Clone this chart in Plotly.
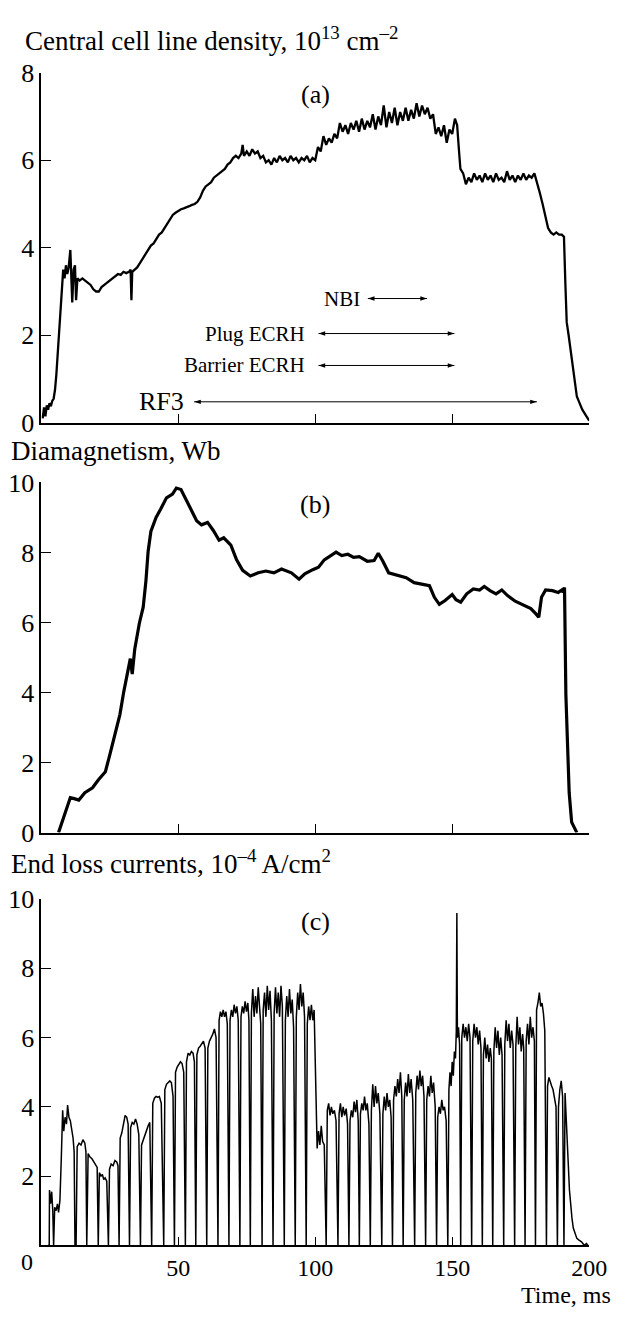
import plotly.graph_objects as go

# ---- (a) central cell line density, 1e13 cm^-2 ----
density_t = [
    0.5, 1.0, 1.5, 2.0, 2.5, 3.0, 3.5, 4.0, 4.5, 5.0, 5.5, 6.0, 6.5, 7.0, 7.5, 8.0,
    8.5, 9.0, 9.5, 10.0, 10.6, 11.0, 11.3, 11.8, 12.3, 12.7, 13.2, 14, 15, 16, 17, 18,
    19, 20, 21, 22, 23, 24, 25, 26, 27, 28, 29, 30, 31, 32, 32.6, 32.9, 33.2, 34, 35,
    36, 37, 38, 39, 40, 41, 42, 43, 44, 45, 46, 47, 48, 49, 50, 51, 52, 53, 54, 55, 56,
    57, 58, 59, 60, 61, 62, 63, 64, 65, 66, 67, 68, 69, 70, 71, 72, 73, 73.5, 74, 75,
    76, 77, 78, 79, 80, 81, 82, 83, 84, 85, 86, 87, 88, 89, 90, 91, 92, 93, 94, 95, 96,
    97, 98, 99, 100, 101, 102, 103, 104, 105, 106, 107, 108, 109, 110, 111, 112, 113,
    114, 115, 116, 117, 118, 119, 120, 121, 122, 123, 124, 125, 126, 127, 128, 129,
    130, 131, 132, 133, 134, 135, 136, 137, 138, 139, 140, 141, 142, 143, 144, 145,
    146, 147, 148, 149, 150, 151, 151.8, 152.5, 153, 154, 155, 156, 157, 158, 159, 160,
    161, 162, 163, 164, 165, 166, 167, 168, 169, 170, 171, 172, 173, 174, 175, 176,
    177, 178, 179, 180, 181, 182, 183, 184, 185, 186, 187, 188, 189, 190, 190.8, 191.3,
    191.8, 192.5, 193.5, 194.5, 195.5, 196.5, 197.5, 198.5, 199.5, 200,
]
density_v = [
    0.1, 0.35, 0.15, 0.4, 0.3, 0.45, 0.38, 0.5, 0.55, 0.75, 1.1, 1.6, 2.2, 2.7, 3.0, 3.5,
    3.3, 3.6, 3.4, 3.55, 3.95, 3.2, 2.75, 3.5, 3.6, 2.8, 3.3, 3.25, 3.3, 3.25, 3.2, 3.15,
    3.05, 3.0, 3.0, 3.1, 3.15, 3.2, 3.25, 3.3, 3.35, 3.4, 3.38, 3.45, 3.42, 3.45, 3.5, 2.8, 3.45, 3.5, 3.55,
    3.65, 3.75, 3.85, 3.95, 4.05, 4.1, 4.2, 4.3, 4.35, 4.45, 4.55, 4.65, 4.75, 4.8, 4.85, 4.88, 4.9, 4.92, 4.95, 4.98, 5.0,
    5.05, 5.15, 5.3, 5.4, 5.45, 5.5, 5.6, 5.65, 5.7, 5.75, 5.8, 5.9, 5.95, 6.05, 6.1, 6.05, 6.15, 6.35, 6.1, 6.2,
    6.1, 6.25, 6.15, 6.2, 6.05, 6.1, 5.95, 6.0, 5.9, 6.05, 5.95, 6.1, 6.0, 6.05, 5.95, 6.1, 6.0, 6.05, 5.95, 6.05, 6.0,
    6.1, 5.95, 6.05, 6.0, 6.3, 6.2, 6.55, 6.35, 6.5, 6.4, 6.6, 6.5, 6.85, 6.65, 6.8, 6.6, 6.85,
    6.7, 6.9, 6.65, 6.95, 6.7, 6.9, 6.75, 7.05, 6.7, 7.0, 6.8, 7.25, 6.75, 7.1, 6.85, 7.2,
    6.8, 7.1, 6.9, 7.2, 6.9, 7.15, 6.95, 7.3, 7.0, 7.25, 7.05, 7.2, 6.95, 7.05, 6.6, 6.75,
    6.55, 6.8, 6.4, 6.7, 6.6, 6.95, 6.8, 6.2, 5.8, 5.7, 5.45, 5.6, 5.5, 5.7, 5.55, 5.65,
    5.5, 5.7, 5.55, 5.65, 5.5, 5.7, 5.55, 5.6, 5.5, 5.75, 5.55, 5.65, 5.5, 5.65, 5.55, 5.7,
    5.55, 5.65, 5.6, 5.7, 5.5, 5.25, 5.0, 4.7, 4.45, 4.35, 4.3, 4.35, 4.3, 4.3, 4.25, 3.2,
    2.3, 2.0, 1.5, 1.0, 0.6, 0.45, 0.3, 0.2, 0.1, 0.05,
]

# ---- (b) diamagnetism, Wb ----
diamag_t = [
    6.3, 8.7, 10.6, 12.0, 13.7, 15.9, 18.7, 20.8, 23.4, 25.1, 27.2, 28.7, 30.1, 32.0,
    32.5, 33.2, 34.1, 35.8, 37.2, 38.2, 39.0, 40.0, 41.9, 43.6, 45.7, 47.9, 49.3, 51.0,
    52.8, 55.0, 56.7, 58.5, 60.7, 62.8, 64.9, 66.6, 69.2, 71.3, 73.5, 76.3, 79.2, 82.0,
    84.9, 87.7, 91.3, 94.1, 96.2, 99.1, 101.2, 103.3, 105.5, 107.6, 109.7, 111.9, 114.0,
    116.1, 119.0, 121.5, 123.0, 124.7, 126.8, 129.7, 133.2, 136.1, 138.9, 141.7, 143.5,
    145.3, 147.4, 150.0, 151.4, 153.1, 155.3, 157.7, 160.0, 161.7, 163.8, 166.0, 168.1,
    170.2, 173.0, 175.9, 178.7, 180.4, 181.6, 182.6, 184.1, 186.6, 188.7, 190.1, 190.5,
    191.0, 191.5, 192.7, 193.6, 195.5,
]
diamag_v = [
    0.0, 0.58, 1.0, 0.97, 0.93, 1.14, 1.28, 1.5, 1.74, 2.25, 2.9, 3.37, 4.02, 4.86,
    4.97, 4.53, 5.23, 5.98, 6.44, 7.19, 8.03, 8.6, 9.0, 9.24, 9.56, 9.67, 9.84, 9.8,
    9.52, 9.19, 8.91, 8.79, 8.86, 8.63, 8.35, 8.42, 8.21, 7.79, 7.49, 7.33, 7.42, 7.47,
    7.42, 7.53, 7.42, 7.24, 7.39, 7.51, 7.58, 7.79, 7.91, 8.01, 7.91, 7.95, 7.86,
    7.88, 7.75, 7.77, 7.98, 7.75, 7.42, 7.36, 7.28, 7.14, 7.1, 7.05, 6.72,
    6.52, 6.63, 6.8, 6.65, 6.58, 6.82, 6.96, 6.93, 7.03, 6.91, 6.82, 6.93,
    6.77, 6.61, 6.49, 6.4, 6.26, 6.15, 6.72, 6.93, 6.91, 6.86, 6.93, 6.86,
    7.0, 3.93, 1.14, 0.3, 0.0,
]

# ---- (c) end loss currents, 1e-4 A/cm^2 ----
loss_t = [
    2.5, 2.9, 3.0, 3.4, 3.8, 4.2, 4.5, 4.9, 5.4, 5.9, 6.3, 6.8, 7.3, 7.8, 8.2, 8.7, 9.2, 9.6, 10.1, 10.6, 11.1, 11.6, 12.0, 12.3,
    12.7, 13.1, 13.8, 14.5, 15.2, 15.9, 16.3, 16.6,
    17.1, 17.8, 18.5, 19.2, 19.9, 20.4, 20.8,
    21.2, 21.8, 22.3, 22.8, 23.3, 23.9, 24.5,
    24.9, 25.5, 26.2, 26.9, 27.6, 28.0, 28.4,
    28.8, 29.4, 30.0, 30.6, 31.2, 31.7, 32.2,
    32.6, 33.2, 33.8, 34.4, 35.0, 35.6, 36.2,
    36.6, 37.2, 37.8, 38.4, 39.0, 39.6, 40.3,
    40.7, 41.3, 41.9, 42.5, 43.1, 43.8, 44.7,
    45.1, 45.7, 46.3, 46.9, 47.5, 48.1, 48.6,
    49.0, 49.6, 50.2, 50.8, 51.4, 52.0, 52.6,
    53.0, 53.6, 54.2, 54.8, 55.4, 55.9, 56.4,
    56.8, 57.4, 58.0, 58.6, 59.2, 59.8, 60.4,
    60.8, 61.4, 62.0, 62.6, 63.2, 63.8, 64.5,
    64.9, 65.4, 65.9, 66.4, 66.9, 67.4, 67.9, 68.5,
    68.9, 69.4, 69.9, 70.4, 70.9, 71.4, 71.9, 72.5,
    72.9, 73.4, 73.9, 74.4, 74.9, 75.4, 75.8, 76.3,
    76.7, 77.2, 77.7, 78.2, 78.7, 79.2, 79.7, 80.1, 80.6,
    81.0, 81.5, 82.0, 82.5, 83.0, 83.5, 84.0, 84.6,
    85.0, 85.5, 86.0, 86.5, 87.0, 87.5, 88.0, 88.7,
    89.1, 89.6, 90.1, 90.6, 91.1, 91.6, 92.1, 92.7,
    93.1, 93.6, 94.1, 94.6, 95.1, 95.6, 96.1, 96.7,
    97.1, 97.6, 98.1, 98.6, 99.1, 99.6, 100.0, 100.3, 100.7, 101.2, 101.7, 102.2, 102.7, 103.3, 104.0,
    104.4, 104.9, 105.4, 105.9, 106.4, 107.0, 107.6, 108.3,
    108.7, 109.2, 109.7, 110.2, 110.7, 111.3, 111.8, 112.3,
    112.7, 113.2, 113.7, 114.2, 114.7, 115.2, 115.7, 116.1,
    116.5, 117.0, 117.5, 118.0, 118.5, 119.0, 119.6, 120.1,
    120.5, 121.0, 121.5, 122.0, 122.5, 123.0, 123.6, 124.3,
    124.7, 125.2, 125.7, 126.2, 126.7, 127.2, 127.7, 128.2,
    128.6, 129.1, 129.6, 130.1, 130.6, 131.1, 131.6, 132.1,
    132.5, 133.0, 133.5, 134.0, 134.5, 135.0, 135.6, 136.3,
    136.7, 137.2, 137.7, 138.2, 138.7, 139.2, 139.7, 140.3,
    140.7, 141.2, 141.7, 142.2, 142.7, 143.2, 143.8, 144.3,
    144.7, 145.2, 145.7, 146.2, 146.7, 147.2, 147.8, 148.4,
    148.8, 149.2, 149.6, 150.0, 150.4, 150.8, 151.2, 151.5, 151.7, 151.9, 152.3, 152.7, 153.1,
    153.5, 154.0, 154.5, 155.0, 155.5, 156.0, 156.5, 157.1,
    157.5, 158.0, 158.5, 159.0, 159.5, 160.0, 160.5, 161.0,
    161.4, 161.9, 162.4, 162.9, 163.4, 163.9, 164.3, 164.8,
    165.2, 165.7, 166.2, 166.7, 167.2, 167.7, 168.2, 168.8,
    169.2, 169.7, 170.2, 170.7, 171.2, 171.7, 172.2, 172.8,
    173.2, 173.7, 174.2, 174.7, 175.2, 175.7, 176.1, 176.6,
    177.0, 177.5, 178.0, 178.5, 179.0, 179.5, 180.0, 180.4,
    180.8, 181.3, 181.8, 182.3, 182.8, 183.3, 183.8, 184.4,
    184.8, 185.3, 185.8, 186.3, 186.8, 187.3, 187.9, 188.4,
    188.8, 189.3, 189.8, 190.3, 190.8,
    191.2, 191.6, 192.0, 192.4, 192.8, 193.2, 193.7, 194.2, 194.8, 195.5, 196.3, 197.2, 198.2, 199.0, 199.5,
]
loss_v = [
    0, 0, 1.6, 1.2, 1.55, 1.0, 0, 1.1, 1.0, 1.2, 0.95, 1.3, 2.5, 3.9, 3.3, 3.7, 3.5, 4.05, 3.7, 3.6, 3.35, 3.1, 2.7, 0,
    0, 2.85, 2.95, 2.9, 3.05, 2.95, 2.7, 0,
    2.65, 2.55, 2.5, 2.4, 2.3, 2.25, 0,
    2.1, 2.0, 2.05, 1.9, 1.95, 1.85, 0,
    2.2, 2.35, 2.3, 2.45, 2.4, 2.3, 0,
    3.1, 3.25, 3.5, 3.75, 3.7, 3.5, 0,
    3.4, 3.55, 3.5, 3.65, 3.5, 3.2, 0,
    2.9, 3.05, 3.2, 3.3, 3.45, 3.55, 0,
    4.1, 4.25, 4.3, 4.28, 4.3, 4.1, 0,
    4.5, 4.65, 4.7, 4.75, 4.7, 4.3, 0,
    5.0, 5.15, 5.25, 5.3, 5.25, 5.0, 0,
    5.3, 5.55, 5.5, 5.6, 5.55, 5.3, 0,
    5.5, 5.7, 5.75, 5.85, 5.9, 5.7, 0,
    5.7, 5.9, 6.0, 6.1, 6.25, 6.0, 0,
    6.5, 6.75, 6.6, 6.8, 6.6, 6.75, 6.4, 0,
    6.5, 6.8, 6.6, 6.95, 6.7, 6.9, 6.5, 0,
    6.6, 6.9, 6.7, 7.05, 6.75, 7.0, 6.5, 0,
    6.7, 7.4, 6.6, 7.2, 6.7, 7.45, 6.9, 6.4, 0,
    6.8, 7.3, 6.6, 7.5, 6.8, 7.35, 6.5, 0,
    6.7, 7.45, 6.7, 7.3, 6.6, 7.5, 6.9, 0,
    6.5, 7.2, 6.6, 7.4, 6.7, 7.1, 6.3, 0,
    6.6, 7.3, 6.8, 7.55, 6.9, 7.3, 6.6, 0,
    6.4, 6.9, 6.5, 6.95, 6.5, 6.8, 5.0, 3.4, 2.8, 3.3, 2.9, 3.45, 3.0, 2.9, 0,
    3.9, 4.1, 3.75, 4.0, 3.8, 3.9, 3.6, 0,
    3.8, 4.1, 3.7, 4.0, 3.75, 3.95, 3.5, 0,
    3.6, 3.9, 3.7, 4.15, 3.85, 4.2, 3.6, 0,
    3.8, 4.1, 3.9, 4.3, 3.9, 4.1, 3.5, 0,
    3.9, 4.65, 4.0, 4.6, 4.1, 4.4, 3.8, 0,
    3.8, 4.3, 3.9, 4.4, 4.0, 4.2, 3.7, 0,
    4.2, 4.6, 4.3, 4.8, 4.4, 5.0, 4.3, 0,
    4.2, 4.7, 4.3, 4.95, 4.4, 4.8, 4.2, 0,
    4.4, 4.9, 4.5, 5.05, 4.6, 4.9, 4.3, 0,
    4.2, 4.6, 4.3, 4.9, 4.4, 4.7, 4.0, 0,
    3.7, 4.0, 3.8, 4.2, 3.9, 4.0, 3.6, 0,
    4.5, 5.0, 4.6, 5.3, 4.9, 5.6, 5.4, 6.2, 9.6, 6.0, 6.3, 5.8, 0,
    6.0, 6.4, 6.0, 6.3, 5.9, 6.4, 6.0, 0,
    5.9, 6.4, 6.0, 6.3, 5.8, 6.2, 5.7, 0,
    5.5, 6.0, 5.4, 5.8, 5.3, 5.7, 5.4, 0,
    5.6, 6.3, 5.7, 6.2, 5.5, 6.0, 5.5, 0,
    5.8, 6.5, 5.9, 6.4, 5.7, 6.2, 5.8, 0,
    5.7, 6.6, 5.8, 6.3, 5.6, 6.1, 5.7, 0,
    5.9, 6.4, 5.8, 6.6, 6.0, 6.3, 5.9, 0,
    6.8, 7.0, 7.3, 6.9, 7.0, 6.7, 6.2, 0,
    4.6, 4.85, 4.7, 4.6, 4.5, 4.3, 4.0, 0,
    4.0, 4.5, 4.75, 4.3, 0,
    4.4, 3.5, 2.8, 2.3, 1.6, 1.1, 0.8, 0.5, 0.35, 0.2, 0.15, 0.1, 0.0, 0.05, 0,
]

# heating / RF timing bars drawn in panel (a): label, start, end, level, label end
heat_labels = ["NBI", "Plug ECRH", "Barrier ECRH", "RF3"]
heat_start = [119.2, 101.2, 101.2, 55.8]
heat_end = [140.8, 150.8, 150.8, 180.9]
heat_level = [2.84, 2.04, 1.31, 0.48]
heat_label_end = [117.1, 96.9, 96.9, 53.0]
heat_font = [21, 21, 21, 26]

W, H = 630, 1320
FONT = "Liberation Serif"
X0, X1 = 42.5 / W, 606.5 / W


def ydom(top_px, bot_px):
    return [1 - bot_px / H, 1 - top_px / H]


fig = go.Figure()
fig.add_trace(go.Scatter(x=density_t, y=density_v, mode="lines",
                         line=dict(color="black", width=2.3), xaxis="x", yaxis="y"))
fig.add_trace(go.Scatter(x=diamag_t, y=diamag_v, mode="lines",
                         line=dict(color="black", width=3.2), xaxis="x2", yaxis="y2"))
fig.add_trace(go.Scatter(x=loss_t, y=loss_v, mode="lines",
                         line=dict(color="black", width=1.5), xaxis="x3", yaxis="y3"))

# double-headed timing bars: a thin line with an arrow marker at each end
for s, e, lv in zip(heat_start, heat_end, heat_level):
    fig.add_trace(go.Scatter(
        x=[s, e], y=[lv, lv], mode="lines+markers", xaxis="x", yaxis="y",
        line=dict(color="black", width=1),
        marker=dict(symbol="arrow", size=7, color="black", angle=[270, 90],
                    line=dict(width=0)),
        hoverinfo="skip"))

xcommon = dict(range=[0, 200], domain=[X0, X1], showline=True, linecolor="black", linewidth=1.5,
               ticks="inside", ticklen=9, tickwidth=1.2, tickcolor="black", showgrid=False,
               zeroline=False, tickvals=[0, 50, 100, 150, 200])
ycommon = dict(showline=True, linecolor="black", linewidth=1.5, ticks="inside", ticklen=10,
               tickwidth=1.2, tickcolor="black", showgrid=False, zeroline=False,
               tickfont=dict(family=FONT, size=26, color="black"))

fig.update_layout(
    width=W, height=H, margin=dict(l=0, r=0, t=0, b=0),
    paper_bgcolor="white", plot_bgcolor="white", showlegend=False,
    font=dict(family=FONT, color="black"),
    xaxis=dict(**xcommon, anchor="y", showticklabels=False),
    xaxis2=dict(**xcommon, anchor="y2", showticklabels=False),
    xaxis3=dict(**xcommon, anchor="y3", showticklabels=True,
                ticktext=["", "50", "100", "150", "200"], ticklabelstandoff=0,
                tickfont=dict(family=FONT, size=24, color="black")),
    yaxis=dict(**ycommon, anchor="x", domain=ydom(60, 418), range=[0, 8], tickvals=[0, 2, 4, 6, 8]),
    yaxis2=dict(**ycommon, anchor="x2", domain=ydom(479, 837), range=[0, 10],
                tickvals=[0, 2, 4, 6, 8, 10]),
    yaxis3=dict(**ycommon, anchor="x3", domain=ydom(905, 1259), range=[0, 10],
                tickvals=[2, 4, 6, 8, 10]),
)

ann = []
# panel titles
ann.append(dict(text="Central cell line density, 10<sup>13</sup> cm<sup>–2</sup>", x=24 / W,
                y=1 - 26 / H, xref="paper", yref="paper", xanchor="left", yanchor="middle",
                showarrow=False, font=dict(family=FONT, size=27)))
ann.append(dict(text="Diamagnetism, Wb", x=9 / W, y=1 - 447 / H, xref="paper", yref="paper",
                xanchor="left", yanchor="middle", showarrow=False, font=dict(family=FONT, size=27)))
ann.append(dict(text="End loss currents, 10<sup>–4</sup> A/cm<sup>2</sup>", x=9 / W, y=1 - 867 / H,
                xref="paper", yref="paper", xanchor="left", yanchor="middle", showarrow=False,
                font=dict(family=FONT, size=27)))
ann.append(dict(text="Time, ms", x=1, y=0, xref="paper", yref="paper", borderpad=0,
                xanchor="right", yanchor="bottom", yshift=-4, showarrow=False,
                font=dict(family=FONT, size=24)))
ann.append(dict(text="0", x=0, y=1 - 1276 / H, xref="x3", yref="paper", xshift=-14,
                xanchor="center", yanchor="middle", showarrow=False, font=dict(family=FONT, size=24)))
# panel letters
for lab, xr, yr, yv in [("(a)", "x", "y", 7.5), ("(b)", "x2", "y2", 9.37), ("(c)", "x3", "y3", 9.35)]:
    ann.append(dict(text=lab, x=100, y=yv, xref=xr, yref=yr, showarrow=False,
                    font=dict(family=FONT, size=26)))
# heating timing labels
for lab, lv, le, fs in zip(heat_labels, heat_level, heat_label_end, heat_font):
    ann.append(dict(text=lab, x=le, y=lv, xref="x", yref="y", xanchor="right", yanchor="middle",
                    showarrow=False, font=dict(family=FONT, size=fs)))
fig.update_layout(annotations=ann)

fig.write_html("out.html")
